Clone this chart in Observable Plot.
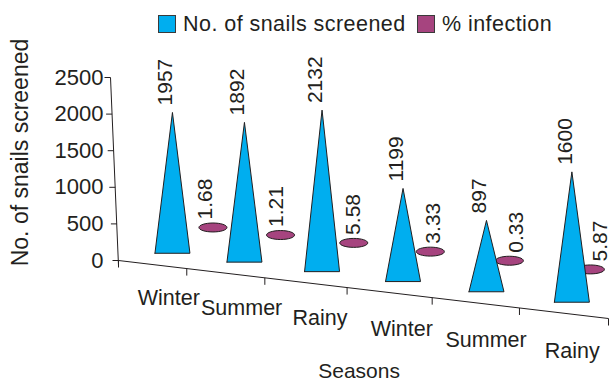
<!DOCTYPE html>
<html><head><meta charset="utf-8">
<script src="https://cdn.jsdelivr.net/npm/d3@7"></script>
<script src="https://cdn.jsdelivr.net/npm/@observablehq/plot@0.6"></script>
<style>
body{margin:0;background:#fff;font-family:"Liberation Sans",Arial,sans-serif;color:#231f20}
#legend{position:relative;height:36px;width:611px;font-size:21.5px}
.sw{position:absolute;top:15px;width:18px;height:18px;border:1px solid #3a3a3a;box-sizing:border-box}
.lt{position:absolute;top:12px;line-height:24px;white-space:nowrap;letter-spacing:0.45px}
#chart svg{display:block}
</style></head><body>
<div id="legend">
 <div class="sw" style="left:158px;background:#00aeef"></div><div class="lt" style="left:183px">No. of snails screened</div>
 <div class="sw" style="left:417px;background:#a6447f"></div><div class="lt" style="left:442px">% infection</div>
</div>
<div id="chart"></div>
<script>
// ---- data ----
const seasons = ["Winter", "Summer", "Rainy", "Winter", "Summer", "Rainy"];
const snailsScreened = [1957, 1892, 2132, 1199, 897, 1600];
const infectionPct = [1.68, 1.21, 5.58, 3.33, 0.33, 5.87];
const infectionLabels = ["1.68", "1.21", "5.58", "3.33", "0.33", "5.87"];
const yTicks = [0, 500, 1000, 1500, 2000, 2500];

// ---- 3D-looking layout (oblique perspective) built on Plot scales ----
const W = 611, H = 347;
const xPos = Plot.scale({x: {type: "pow", exponent: 1.1, domain: [0, seasons.length], range: [118, 608]}});
const yVal = Plot.scale({y: {type: "linear", domain: [0, 2500], range: [224, 41]}});
const SLOPE = 0.1184, LEAN = -8 / 183;
const floorY = px => yVal.apply(0) + (px - xPos.apply(0)) * SLOPE;
const axisX = v => xPos.apply(0) + LEAN * (yVal.apply(0) - yVal.apply(v));

const cones = snailsScreened.map((v, i) => {
  const t = i + 0.5, fx = xPos.apply(t);
  const cx = fx + 23.5 - 2.8 * t;
  const base = floorY(fx) - 11;
  const apex = base - (yVal.apply(0) - yVal.apply(v)) * (0.97 + 0.026 * t);
  return {i, t, v, cx, base, apex, season: seasons[i]};
});
const conePts = cones.flatMap(c => [
  {i: c.i, x: c.cx - 17.5, y: c.base},
  {i: c.i, x: c.cx, y: c.apex},
  {i: c.i, x: c.cx + 17.5, y: c.base},
  {i: c.i, x: c.cx - 17.5, y: c.base}
]);
const ells = infectionPct.map((v, i) => {
  const t = i + 0.5, fx = xPos.apply(t);
  const ex = fx + 66.2 - 7.2 * t;
  const ey = floorY(fx) - (36 + 1.34 * t) - (yVal.apply(0) - yVal.apply(v));
  return {i, t, v, ex, ey, label: infectionLabels[i]};
});
const ellipseSymbol = {
  draw(ctx, size) {
    const rx = Math.sqrt(size / Math.PI), ry = rx * 0.32, k = 0.5523;
    ctx.moveTo(rx, 0);
    ctx.bezierCurveTo(rx, ry * k, rx * k, ry, 0, ry);
    ctx.bezierCurveTo(-rx * k, ry, -rx, ry * k, -rx, 0);
    ctx.bezierCurveTo(-rx, -ry * k, -rx * k, -ry, 0, -ry);
    ctx.bezierCurveTo(rx * k, -ry, rx, -ry * k, rx, 0);
    ctx.closePath();
  }
};
const floorTicks = d3.range(0, seasons.length + 1);
const INK = "#231f20";

const chart = Plot.plot({
  width: W, height: H, margin: 0, axis: null,
  x: {type: "identity"}, y: {type: "identity"},
  style: {fontFamily: "'Liberation Sans', Arial, sans-serif", fontSize: "20px", color: INK, background: "#fff", overflow: "hidden"},
  marks: [
    // value axis
    Plot.link([0], {x1: () => axisX(0), y1: () => yVal.apply(0) + 5, x2: () => axisX(2500), y2: () => yVal.apply(2500), stroke: INK, strokeWidth: 1}),
    Plot.link(yTicks, {x1: v => axisX(v) - 6, x2: v => axisX(v), y1: v => yVal.apply(v), y2: v => yVal.apply(v), stroke: INK}),
    Plot.text(yTicks, {x: () => 103, y: v => yVal.apply(v), text: v => String(v), textAnchor: "end", fontSize: 22}),
    Plot.text(["No. of snails screened"], {x: () => 20, y: () => 116, text: d => d, rotate: -90, fontSize: 23}),
    // floor
    Plot.link([0], {x1: () => xPos.apply(0), y1: () => floorY(xPos.apply(0)), x2: () => xPos.apply(seasons.length), y2: () => floorY(xPos.apply(seasons.length)), stroke: INK}),
    Plot.link(floorTicks, {x1: t => xPos.apply(t), x2: t => xPos.apply(t), y1: t => floorY(xPos.apply(t)), y2: t => floorY(xPos.apply(t)) + 7, stroke: INK}),
    Plot.text(cones, {x: c => c.cx - 4 + 0.8 * c.t, y: c => floorY(c.cx) + 30.5 + 1.2 * c.t, text: "season", fontSize: 21.5}),
    Plot.text(["Seasons"], {x: () => xPos.apply(3) + 12, y: () => 335, text: d => d, fontSize: 21}),
    // % infection (back row)
    Plot.dot(ells, {x: "ex", y: "ey", r: 14, symbol: ellipseSymbol, fill: "#a6447f", stroke: INK, strokeWidth: 1}),
    Plot.text(ells, {x: d => d.ex - 10 + 3.7 * d.t, y: d => d.ey - 8, text: "label", rotate: -90, textAnchor: "start", fontSize: 21}),
    // snails screened (front row cones)
    Plot.line(conePts, {x: "x", y: "y", z: "i", fill: "#00aeef", stroke: INK, strokeWidth: 1, strokeLinejoin: "miter", strokeMiterlimit: 2}),
    Plot.text(cones, {x: c => c.cx - 7, y: c => c.apex - 7, text: c => String(c.v), rotate: -90, textAnchor: "start", fontSize: 21})
  ]
});
document.getElementById("chart").appendChild(chart);
</script>
</body></html>
